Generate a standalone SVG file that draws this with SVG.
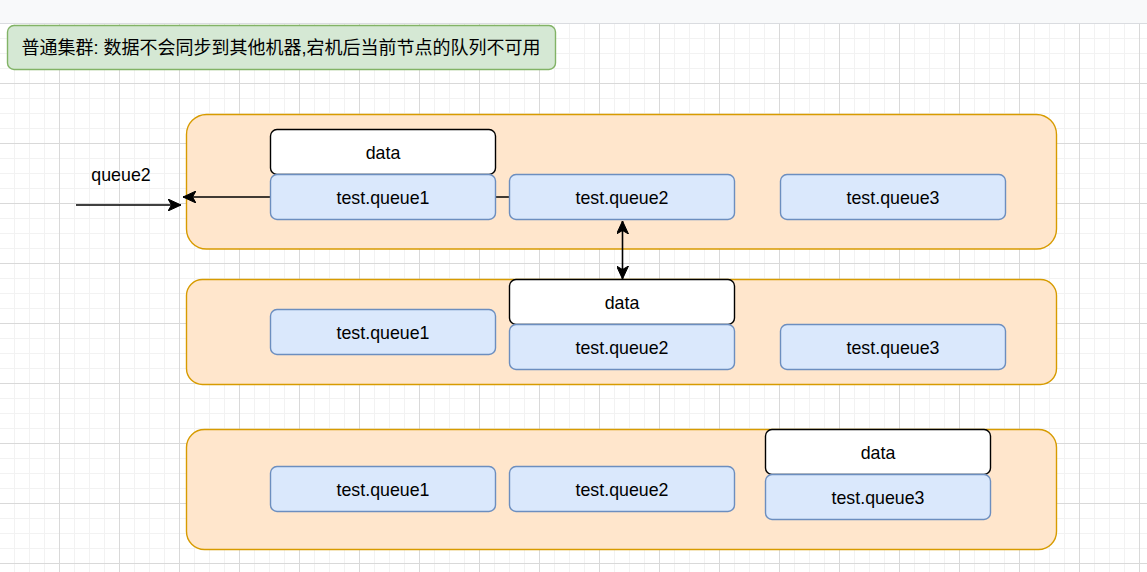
<svg xmlns="http://www.w3.org/2000/svg" width="1147" height="572" viewBox="0 0 1147 572">
<style>
.cont{fill:#ffe6cc;stroke:#d79b00;stroke-width:1.4}
.q{fill:#dae8fc;stroke:#6c8ebf;stroke-width:1.4}
.d{fill:#ffffff;stroke:#000000;stroke-width:1.4}
.t{font-family:"Liberation Sans",Arial,sans-serif;font-size:17.8px;fill:#000;text-anchor:middle}
.edge{fill:none;stroke:#000;stroke-width:1.6}
</style>
<defs>
<pattern id="grid" x="59" y="23" width="60" height="60" patternUnits="userSpaceOnUse">
<path d="M15.5,0V60M30.5,0V60M45.5,0V60M0,15.5H60M0,30.5H60M0,45.5H60" stroke="#f2f2f2" stroke-width="1" fill="none"/>
<path d="M0.5,0V60M0,0.5H60" stroke="#d9d9d9" stroke-width="1" fill="none"/>
</pattern>
<marker id="arr" markerWidth="14" markerHeight="12" refX="13" refY="6" orient="auto-start-reverse" markerUnits="userSpaceOnUse" viewBox="0 0 14 12">
<path d="M13,6 L0,0 L3.5,6 L0,12 Z" fill="#000" stroke="#000" stroke-width="1"/>
</marker>
</defs>
<rect x="0" y="0" width="1147" height="572" fill="#ffffff"/>
<rect x="0" y="23" width="1147" height="549" fill="url(#grid)"/>
<rect x="0" y="0" width="1147" height="23" fill="#f8f9fa"/>
<line x1="0" y1="23.5" x2="1147" y2="23.5" stroke="#dadce0" stroke-width="1"/>

<g id="title">
<rect x="7.5" y="25.5" width="548" height="44" rx="6.5" fill="#d5e8d4" stroke="#82b366" stroke-width="1.4"/>
<text x="281" y="54" font-family="'Liberation Sans','Noto Sans CJK SC',sans-serif" font-size="18" fill="#000" text-anchor="middle">普通集群: 数据不会同步到其他机器,宕机后当前节点的队列不可用</text>
</g>

<g id="node1"><rect class="cont" x="186.5" y="114.5" width="870" height="134.5" rx="20"/></g>
<g id="node2"><rect class="cont" x="186.5" y="279.5" width="870" height="105" rx="16"/></g>
<g id="node3"><rect class="cont" x="186.5" y="429.5" width="870" height="120" rx="18"/></g>

<g id="connectors">
<line class="edge" x1="509.5" y1="197" x2="183" y2="197" marker-end="url(#arr)"/>
<line class="edge" x1="76" y1="205" x2="181" y2="205" marker-end="url(#arr)"/>
<text class="t" x="121" y="181">queue2</text>
<line class="edge" x1="622.5" y1="221" x2="622.5" y2="279" marker-start="url(#arr)" marker-end="url(#arr)"/>
</g>

<g id="n1-data"><rect class="d" x="270.5" y="129.5" width="225" height="45" rx="6.5"/><text class="t" x="383" y="159">data</text></g>
<g id="n1-q1"><rect class="q" x="270.5" y="174.5" width="225" height="45" rx="6.5"/><text class="t" x="383" y="204">test.queue1</text></g>
<g id="n1-q2"><rect class="q" x="509.5" y="174.5" width="225" height="45" rx="6.5"/><text class="t" x="622" y="204">test.queue2</text></g>
<g id="n1-q3"><rect class="q" x="780.5" y="174.5" width="225" height="45" rx="6.5"/><text class="t" x="893" y="204">test.queue3</text></g>

<g id="n2-q1"><rect class="q" x="270.5" y="309.5" width="225" height="45" rx="6.5"/><text class="t" x="383" y="339">test.queue1</text></g>
<g id="n2-data"><rect class="d" x="509.5" y="279.5" width="225" height="45" rx="6.5"/><text class="t" x="622" y="309">data</text></g>
<g id="n2-q2"><rect class="q" x="509.5" y="324.5" width="225" height="45" rx="6.5"/><text class="t" x="622" y="354">test.queue2</text></g>
<g id="n2-q3"><rect class="q" x="780.5" y="324.5" width="225" height="45" rx="6.5"/><text class="t" x="893" y="354">test.queue3</text></g>

<g id="n3-q1"><rect class="q" x="270.5" y="466.5" width="225" height="45" rx="6.5"/><text class="t" x="383" y="496">test.queue1</text></g>
<g id="n3-q2"><rect class="q" x="509.5" y="466.5" width="225" height="45" rx="6.5"/><text class="t" x="622" y="496">test.queue2</text></g>
<g id="n3-data"><rect class="d" x="765.5" y="429.5" width="225" height="45" rx="6.5"/><text class="t" x="878" y="459">data</text></g>
<g id="n3-q3"><rect class="q" x="765.5" y="474.5" width="225" height="45" rx="6.5"/><text class="t" x="878" y="504">test.queue3</text></g>
</svg>
